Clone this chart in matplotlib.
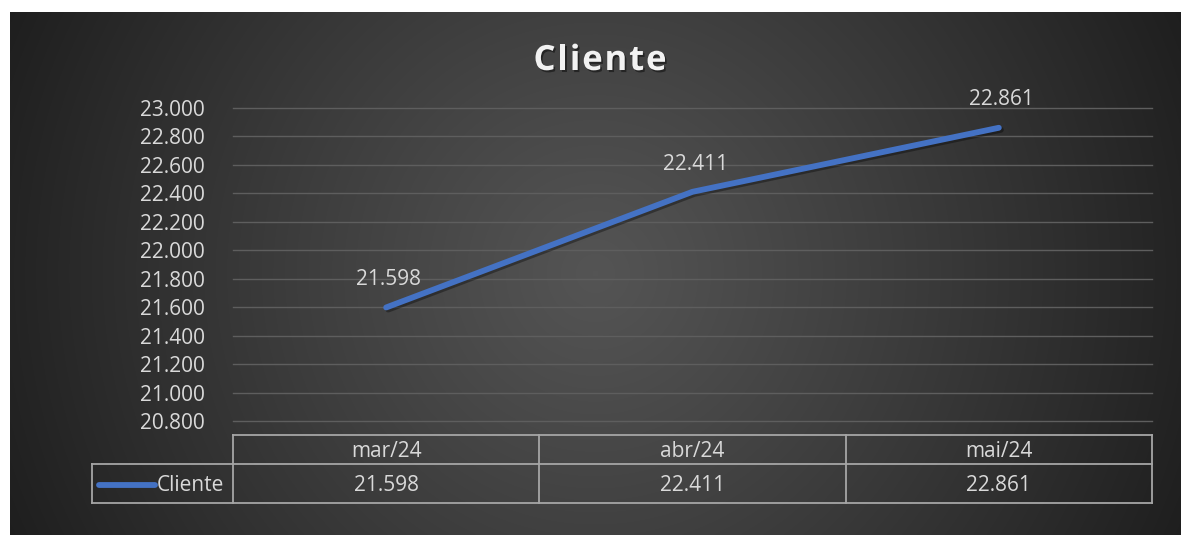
import numpy as np
import matplotlib
matplotlib.use("Agg")
import matplotlib.pyplot as plt
import matplotlib.patheffects as pe
from matplotlib.lines import Line2D
from matplotlib.font_manager import FontProperties
from matplotlib.textpath import text_to_path

# ---- data ----
months = ["mar/24", "abr/24", "mai/24"]
series_name = "Cliente"
clientes = [21598, 22411, 22861]
y_min, y_max, y_step = 20800, 23000, 200


def fmt_thousand(v):
    return f"{int(round(v)):,}".replace(",", ".")


W, H = 1181, 535
fig = plt.figure(figsize=(W / 100, H / 100), dpi=100)
fig.patch.set_facecolor("white")
plt.rcParams["font.family"] = ["Open Sans", "DejaVu Sans"]
txt_color = "#d9d9d9"
fs = 15

# ---- background panel with radial gradient ----
px0, py0, px1, py1 = 10, 12, 1181, 535
bg = fig.add_axes([px0 / W, 1 - py1 / H, (px1 - px0) / W, (py1 - py0) / H])
bg.set_axis_off()
nx, ny = 600, 300
xx, yy = np.meshgrid(np.linspace(-1, 1, nx), np.linspace(-1, 1, ny))
aspect = (px1 - px0) / (py1 - py0)
r = np.sqrt((xx * aspect) ** 2 + yy ** 2) / np.sqrt(aspect ** 2 + 1)
c_center, c_edge = 0.33, 0.12
val = c_center + (c_edge - c_center) * np.clip(r, 0, 1) ** 1.1
img = np.dstack([val, val, val])
bg.imshow(img, aspect="auto", extent=[0, 1, 0, 1], interpolation="bilinear")
bg.set_xlim(0, 1)
bg.set_ylim(0, 1)

# ---- main axes ----
ax_l, ax_r, ax_t, ax_b = 233, 1152, 108, 421
ax = fig.add_axes([ax_l / W, 1 - ax_b / H, (ax_r - ax_l) / W, (ax_b - ax_t) / H])
ax.patch.set_alpha(0)
x = np.arange(len(months))
ax.set_xlim(-0.5, len(months) - 0.5)
ax.set_ylim(y_min, y_max)
yt = np.arange(y_min, y_max + 1, y_step)
ax.set_yticks(yt)
ax.set_yticklabels([fmt_thousand(v) for v in yt])
ax.set_xticks([])
for s in ax.spines.values():
    s.set_visible(False)
ax.tick_params(axis="y", length=0, pad=20, labelsize=fs, labelcolor=txt_color)
for t in yt:
    ax.axhline(t, color="#5e5e5e", lw=1.0, zorder=1, clip_on=False)

line_color = "#4472C4"
ax.plot(x, clientes, color=line_color, lw=4.2, solid_capstyle="round",
        solid_joinstyle="round", zorder=3,
        path_effects=[pe.SimpleLineShadow(offset=(1.5, -1.5), shadow_color="black", alpha=0.35),
                      pe.Normal()])
for xi, v in zip(x, clientes):
    ax.annotate(fmt_thousand(v), (xi, v), xytext=(2, 20), textcoords="offset points",
                ha="center", va="center", fontsize=fs, color=txt_color)

# ---- title (letter-spaced) ----
title_fp = FontProperties(family="Open Sans", weight="bold", size=25)
spacing_px = 1.8
widths = []
for ch in series_name:
    w, h, d = text_to_path.get_text_width_height_descent(ch, title_fp, ismath=False)
    widths.append(w * 100 / 72)
total = sum(widths) + spacing_px * (len(series_name) - 1)
cx_title, cy_title = 600, 61
xcur = cx_title - total / 2
for ch, w in zip(series_name, widths):
    fig.text(xcur / W, 1 - cy_title / H, ch, ha="left", va="center",
             fontproperties=title_fp, color="#f2f2f2",
             path_effects=[pe.withSimplePatchShadow(offset=(1.2, -1.5), shadow_rgbFace="black", alpha=0.45)])
    xcur += w + spacing_px

# ---- data table ----
tcol = "#a6a6a6"
t_top, t_mid, t_bot = 435, 464, 503
leg_left = 92
to_fy = lambda p: 1 - p / H
to_fx = lambda p: p / W
col_w = (ax_r - ax_l) / len(months)
col_edges = [ax_l + i * col_w for i in range(len(months) + 1)]


def hline(xa, xb, y):
    fig.add_artist(Line2D([to_fx(xa), to_fx(xb)], [to_fy(y), to_fy(y)], color=tcol, lw=1.3))


def vline(xp, ya, yb):
    fig.add_artist(Line2D([to_fx(xp), to_fx(xp)], [to_fy(ya), to_fy(yb)], color=tcol, lw=1.3))


hline(ax_l, ax_r, t_top)
hline(leg_left, ax_r, t_mid)
hline(leg_left, ax_r, t_bot)
for e in col_edges:
    vline(e, t_top, t_bot)
vline(leg_left, t_mid, t_bot)

for i, (m, v) in enumerate(zip(months, clientes)):
    cx = (col_edges[i] + col_edges[i + 1]) / 2
    fig.text(to_fx(cx), to_fy((t_top + t_mid) / 2 + 2), m, ha="center", va="center",
             fontsize=fs, color=txt_color)
    fig.text(to_fx(cx), to_fy((t_mid + t_bot) / 2 + 2), fmt_thousand(v), ha="center", va="center",
             fontsize=fs, color=txt_color)

# legend key in row header
ly = (t_mid + t_bot) / 2 + 1
fig.add_artist(Line2D([to_fx(99), to_fx(155)], [to_fy(ly), to_fy(ly)], color=line_color,
                      lw=4.2, solid_capstyle="round"))
fig.text(to_fx(157), to_fy(ly + 1), series_name, ha="left", va="center", fontsize=fs, color=txt_color)

fig.savefig("out.png", dpi=100, facecolor="white")
